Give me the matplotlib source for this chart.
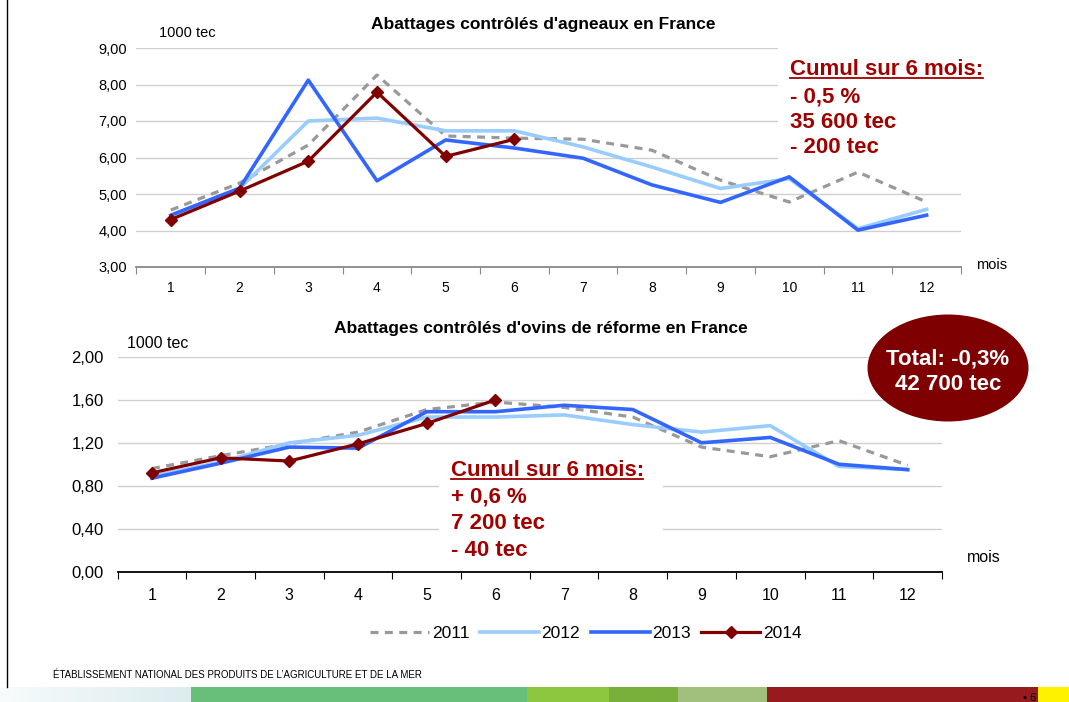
import numpy as np
import matplotlib
matplotlib.use("Agg")
import matplotlib.pyplot as plt
from matplotlib.patches import Rectangle, Ellipse
from matplotlib.lines import Line2D

plt.rcParams['font.family'] = ['Liberation Sans', 'DejaVu Sans']

mois = [1, 2, 3, 4, 5, 6, 7, 8, 9, 10, 11, 12]

# abattages d'agneaux (1000 tec)
agn_2011 = [4.56, 5.30, 6.34, 8.26, 6.59, 6.53, 6.50, 6.20, 5.38, 4.78, 5.60, 4.78]
agn_2012 = [4.40, 5.15, 7.00, 7.08, 6.73, 6.73, 6.29, 5.74, 5.15, 5.42, 4.05, 4.58]
agn_2013 = [4.42, 5.16, 8.12, 5.36, 6.48, 6.26, 5.98, 5.25, 4.77, 5.47, 4.01, 4.42]
agn_2014 = [4.30, 5.08, 5.90, 7.79, 6.03, 6.50]

# abattages d'ovins de reforme (1000 tec)
ovi_2011 = [0.96, 1.08, 1.19, 1.30, 1.51, 1.58, 1.53, 1.44, 1.16, 1.07, 1.22, 0.99]
ovi_2012 = [0.89, 1.02, 1.20, 1.27, 1.44, 1.44, 1.46, 1.37, 1.30, 1.36, 0.98, 0.95]
ovi_2013 = [0.87, 1.01, 1.16, 1.15, 1.49, 1.49, 1.55, 1.51, 1.20, 1.25, 1.00, 0.95]
ovi_2014 = [0.92, 1.06, 1.03, 1.19, 1.38, 1.60]

agn_yticks = [3, 4, 5, 6, 7, 8, 9]
agn_ylabels = ["3,00", "4,00", "5,00", "6,00", "7,00", "8,00", "9,00"]
ovi_yticks = [0.0, 0.4, 0.8, 1.2, 1.6, 2.0]
ovi_ylabels = ["0,00", "0,40", "0,80", "1,20", "1,60", "2,00"]

W, H = 1069, 702
fig = plt.figure(figsize=(W / 100, H / 100), dpi=100)
fig.patch.set_facecolor('white')


def box(x0, y0, x1, y1):
    # pixel box (top-left origin) -> figure fraction rect
    return [x0 / W, 1 - y1 / H, (x1 - x0) / W, (y1 - y0) / H]


def fx(x):
    return x / W


def fy(y):
    return 1 - y / H


def draw_chart(ax, s11, s12, s13, s14, yticks, ylabels, ylim, fs_y, fs_x, pad_y, pad_x, spine_col):
    ax.plot(mois, s11, color='#999999', lw=2.3, linestyle=(0, (2.5, 2.0)), label='2011', zorder=2)
    ax.plot(mois, s12, color='#99CCFF', lw=2.6, label='2012', zorder=3)
    ax.plot(mois, s13, color='#3366FF', lw=2.6, label='2013', zorder=4)
    ax.plot(mois[:len(s14)], s14, color='#800000', lw=2.3, marker='D', markersize=6,
            label='2014', zorder=5)
    ax.set_xlim(0.5, 12.5)
    ax.set_ylim(*ylim)
    ax.set_yticks(yticks)
    ax.set_yticklabels(ylabels, fontsize=fs_y)
    ax.tick_params(axis='y', length=0, pad=pad_y)
    ax.set_xticks(np.arange(0.5, 13, 1))
    ax.set_xticklabels([])
    ax.set_xticks(mois, minor=True)
    ax.set_xticklabels([str(m) for m in mois], minor=True, fontsize=fs_x)
    ax.tick_params(axis='x', which='major', length=5, direction='out', color=spine_col)
    ax.tick_params(axis='x', which='minor', length=0, pad=pad_x)
    ax.grid(axis='y', color='#d0d0d0', lw=1)
    ax.set_axisbelow(True)
    for s in ['left', 'top', 'right']:
        ax.spines[s].set_visible(False)
    ax.spines['bottom'].set_color(spine_col)
    ax.spines['bottom'].set_linewidth(1.3)
    ax.set_facecolor('none')


ax1 = fig.add_axes(box(136.5, 48, 961, 267))
draw_chart(ax1, agn_2011, agn_2012, agn_2013, agn_2014, agn_yticks, agn_ylabels,
           (3, 9), 10.5, 10, 7, 10, '#888888')

ax2 = fig.add_axes(box(117.6, 357, 942, 571.5))
draw_chart(ax2, ovi_2011, ovi_2012, ovi_2013, ovi_2014, ovi_yticks, ovi_ylabels,
           (0, 2), 12, 11.5, 10, 12, 'black')

# titles and axis notes
fig.text(fx(543), fy(29), "Abattages contrôlés d'agneaux en France", ha='center', va='baseline',
         fontsize=12.5, fontweight='bold')
fig.text(fx(541), fy(333), "Abattages contrôlés d'ovins de réforme en France", ha='center',
         va='baseline', fontsize=12.5, fontweight='bold')
fig.text(fx(159), fy(33), "1000 tec", ha='left', va='center', fontsize=10.5)
fig.text(fx(127), fy(344), "1000 tec", ha='left', va='center', fontsize=11.5)
fig.text(fx(976), fy(265), "mois", ha='left', va='center', fontsize=10.5)
fig.text(fx(967), fy(557), "mois", ha='left', va='center', fontsize=11.5)

# white boxes behind the cumul text
fig.add_artist(Rectangle((fx(778), fy(165)), (W - 778) / W, 127 / H, transform=fig.transFigure,
                         facecolor='white', edgecolor='none', zorder=1))
fig.add_artist(Rectangle((fx(439), fy(562)), (663 - 439) / W, 110 / H, transform=fig.transFigure,
                         facecolor='white', edgecolor='none', zorder=1))

red = '#a00000'
top_lines = ["Cumul sur 6 mois:", "- 0,5 %", "35 600 tec", "- 200 tec"]
top_base = [75, 102, 128, 153]
for t, b in zip(top_lines, top_base):
    fig.text(fx(790), fy(b), t, ha='left', va='baseline', fontsize=16, fontweight='bold',
             color=red, zorder=2)
fig.add_artist(Line2D([fx(790), fx(983)], [fy(78), fy(78)], transform=fig.transFigure,
                      color=red, lw=1.3, zorder=2))

bot_lines = ["Cumul sur 6 mois:", "+ 0,6 %", "7 200 tec", "- 40 tec"]
bot_base = [476, 503, 529, 556]
for t, b in zip(bot_lines, bot_base):
    fig.text(fx(451), fy(b), t, ha='left', va='baseline', fontsize=16, fontweight='bold',
             color=red, zorder=2)
fig.add_artist(Line2D([fx(451), fx(643)], [fy(479), fy(479)], transform=fig.transFigure,
                      color=red, lw=1.3, zorder=2))

# total ellipse
fig.add_artist(Ellipse((fx(948), fy(368)), 161 / W, 107 / H, transform=fig.transFigure,
                       facecolor='#7f0000', edgecolor='none', zorder=1))
fig.text(fx(948), fy(364), "Total: -0,3%", ha='center', va='baseline', fontsize=16,
         fontweight='bold', color='white', zorder=2)
fig.text(fx(948), fy(390), "42 700 tec", ha='center', va='baseline', fontsize=16,
         fontweight='bold', color='white', zorder=2)

# legend
handles, labels = ax2.get_legend_handles_labels()
fig.legend(handles, labels, loc='center', bbox_to_anchor=(fx(586), fy(633)), ncol=4,
           frameon=False, fontsize=12.5, handlelength=3.4, handletextpad=0.15,
           columnspacing=0.6)

# left border of the slide
fig.add_artist(Line2D([fx(7), fx(7)], [fy(0), fy(687)], transform=fig.transFigure,
                      color='black', lw=1))

# footer
fig.text(fx(53), fy(675), "ÉTABLISSEMENT NATIONAL DES PRODUITS DE L\u2019AGRICULTURE ET DE LA MER",
         ha='left', va='center', fontsize=7)
gax = fig.add_axes(box(0, 687, 191, 702))
gax.imshow(np.linspace(0, 1, 100).reshape(1, -1), aspect='auto',
           cmap=matplotlib.colors.LinearSegmentedColormap.from_list('g', ['#f7fbfb', '#dcecee']))
gax.axis('off')
bars = [(191, 527, '#68bf7a'), (527, 609, '#8dc63f'), (609, 678, '#79b03b'),
        (678, 767, '#a2c07d'), (767, 1038, '#971b1e'), (1038, 1069, '#fff200')]
for x0, x1, c in bars:
    fig.add_artist(Rectangle((fx(x0), fy(702)), (x1 - x0) / W, 15 / H, transform=fig.transFigure,
                             facecolor=c, edgecolor='none'))
fig.text(fx(1023), fy(698), "\u2022 6", ha='left', va='center', fontsize=8, color='black')

fig.savefig("out.png", dpi=100)
